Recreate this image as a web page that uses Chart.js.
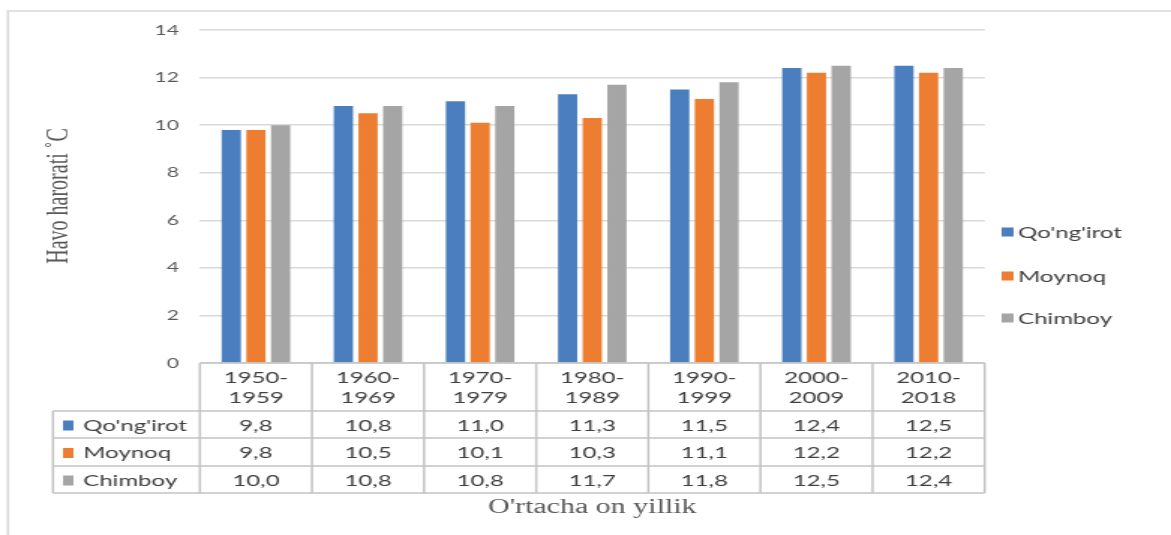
<!DOCTYPE html>
<html>
<head>
<meta charset="utf-8">
<script src="https://cdn.jsdelivr.net/npm/chart.js@4"></script>
<style>
  html, body { margin: 0; padding: 0; background: #ffffff; overflow: hidden; }
  #c { display: block; width: 1171px; height: 535px; }
</style>
</head>
<body>
<canvas id="c" width="781" height="535" style="width:1171px;height:535px"></canvas>
<script>
// ---- data ----
const categories = ['1950-1959', '1960-1969', '1970-1979', '1980-1989', '1990-1999', '2000-2009', '2010-2018'];
const seriesNames = ["Qo'ng'irot", 'Moynoq', 'Chimboy'];
const qongirot = [9.8, 10.8, 11.0, 11.3, 11.5, 12.4, 12.5];
const moynoq   = [9.8, 10.5, 10.1, 10.3, 11.1, 12.2, 12.2];
const chimboy  = [10.0, 10.8, 10.8, 11.7, 11.8, 12.5, 12.4];
const yTicks = [0, 2, 4, 6, 8, 10, 12, 14];
const yTitle = 'Havo harorati \u02DAC';
const xTitle = "O'rtacha on yillik";

const colors = ['#4a7ebf', '#ed7d31', '#a5a5a5'];
const seriesData = [qongirot, moynoq, chimboy];
const FONT = 'Lato';
const TXT = '#404040';

const tablePlugin = {
  id: 'tablePlugin',
  afterDraw(chart) {
    const ctx = chart.ctx;
    const area = chart.chartArea;
    const xs = chart.scales.x;
    const n = categories.length;
    const centers = categories.map((_, i) => xs.getPixelForValue(i));
    const bounds = [area.left];
    for (let i = 0; i < n - 1; i++) bounds.push((centers[i] + centers[i + 1]) / 2);
    bounds.push(area.right);

    const top = area.bottom;
    const rowY = [top + 48, top + 75, top + 103, top + 130];
    const tableLeft = 35.3;

    ctx.save();
    // outer frame
    ctx.strokeStyle = '#d9d9d9';
    ctx.lineWidth = 1.6;
    ctx.beginPath();
    ctx.moveTo(5.3, chart.height);
    ctx.lineTo(5.3, 11);
    ctx.lineTo(chart.width, 11);
    ctx.stroke();

    // table lines
    ctx.strokeStyle = '#c3c3c3';
    ctx.lineWidth = 1.5;
    ctx.beginPath();
    ctx.moveTo(area.left, top); ctx.lineTo(area.right, top);
    rowY.forEach(y => { ctx.moveTo(tableLeft, y); ctx.lineTo(area.right, y); });
    bounds.forEach(x => { ctx.moveTo(x, top); ctx.lineTo(x, rowY[3]); });
    ctx.moveTo(tableLeft, rowY[0]); ctx.lineTo(tableLeft, rowY[3]);
    ctx.stroke();

    // header labels
    ctx.fillStyle = TXT;
    ctx.textAlign = 'center';
    ctx.textBaseline = 'middle';
    ctx.font = '16px ' + FONT;
    categories.forEach((c, i) => {
      const parts = c.split('-');
      ctx.fillText(parts[0] + '-', centers[i], top + 15);
      ctx.fillText(parts[1], centers[i], top + 35);
    });

    // rows
    seriesData.forEach((arr, r) => {
      const yc = (rowY[r] + rowY[r + 1]) / 2 + 1;
      ctx.textAlign = 'center';
      ctx.fillStyle = TXT;
      arr.forEach((v, i) => {
        ctx.fillText(v.toFixed(1).replace('.', ','), centers[i], yc);
      });
      ctx.fillStyle = colors[r];
      ctx.fillRect(42, yc - 5, 7, 10);
      ctx.fillStyle = TXT;
      ctx.textAlign = 'left';
      ctx.fillText(seriesNames[r], 55.5, yc);
    });

    // legend on right
    const legY = [232, 276, 318];
    seriesNames.forEach((name, r) => {
      ctx.fillStyle = colors[r];
      ctx.fillRect(668, legY[r] - 4.5, 8, 9);
      ctx.fillStyle = TXT;
      ctx.textAlign = 'left';
      ctx.fillText(name, 679, legY[r] + 1);
    });

    // axis titles
    ctx.fillStyle = '#595959';
    ctx.font = '20px "Liberation Serif"';
    ctx.textAlign = 'center';
    ctx.fillText(xTitle, (area.left + area.right) / 2, 508);
    ctx.save();
    ctx.translate(40, 196);
    ctx.rotate(-Math.PI / 2);
    ctx.fillText(yTitle, 0, 0);
    ctx.restore();
    ctx.restore();
  }
};

new Chart(document.getElementById('c'), {
  type: 'bar',
  data: {
    labels: categories,
    datasets: seriesNames.map((name, i) => ({
      label: name,
      data: seriesData[i],
      backgroundColor: colors[i],
      borderWidth: 0,
      categoryPercentage: 0.66,
      barPercentage: 0.78
    }))
  },
  options: {
    responsive: false,
    devicePixelRatio: 1,
    animation: false,
    layout: { padding: { left: 0, right: 124.3, top: 30, bottom: 172 } },
    plugins: { legend: { display: false }, tooltip: { enabled: false } },
    scales: {
      x: { display: false, grid: { display: false } },
      y: {
        min: 0, max: 14,
        afterFit(scale) { scale.width = 133.3; },
        afterBuildTicks(scale) { scale.ticks = yTicks.map(v => ({ value: v })); },
        ticks: { color: '#595959', font: { family: FONT, size: 14 }, padding: 14 },
        grid: { color: '#d9d9d9', lineWidth: 1.5, drawTicks: false },
        border: { display: false }
      }
    }
  },
  plugins: [tablePlugin]
});
</script>
</body>
</html>
